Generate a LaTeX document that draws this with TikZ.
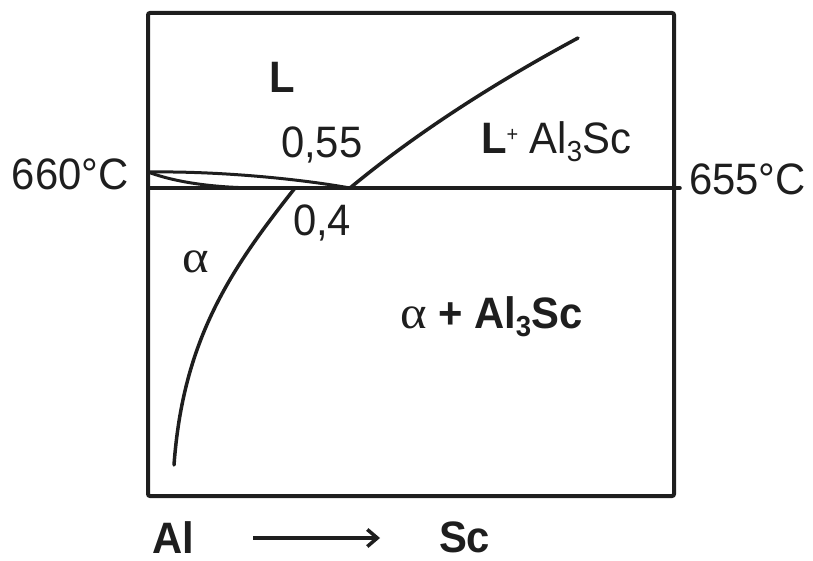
\documentclass[tikz,border=0pt]{standalone}
\usepackage{fontspec}
\setmainfont{Liberation Sans}[FakeStretch=0.95]
\newfontfamily\greekfont{Liberation Serif}[FakeStretch=1.1]
\usetikzlibrary{arrows.meta}
\definecolor{ink}{HTML}{1E1E1E}
\newcommand\subthree{\raisebox{-8pt}{\fontsize{29}{29}\selectfont 3}}
\newcommand\supplus{\raisebox{12pt}{\fontsize{21}{21}\selectfont +}}
\tikzset{
  lbl/.style={inner sep=0pt, outer sep=0pt, anchor=base west, text=ink, font=\fontsize{44}{50}\selectfont},
  blbl/.style={lbl, font=\fontsize{44}{50}\selectfont\bfseries},
  curve/.style={draw=ink, line width=3.5pt, line cap=round, line join=round},
}
\begin{document}
\begin{tikzpicture}[x=1pt,y=-1pt]
\useasboundingbox (0,0) rectangle (813,561);
% frame
\draw[ink, line width=4pt, rounded corners=2pt] (148,13) rectangle (674,496);
% eutectic line
\coordinate (h1) at (148,188);
\coordinate (h2) at (680,188);
\draw[curve] (h1) -- (h2);
% lens (liquidus/solidus near Al)
\coordinate (tip) at (148,172);
\coordinate (eut) at (350,188);
\coordinate (sol) at (262,188);
\draw[curve, line width=3pt] (tip) .. controls (220,171) and (300,179) .. (eut);
\draw[curve, line width=3pt] (tip) .. controls (180,184) and (222,188) .. (sol);
% solvus of alpha
\coordinate (s0) at (174,465);
\coordinate (s1) at (295,188);
\draw[curve] (s0) .. controls (183,340) and (230,270) .. (s1);
% liquidus of Al3Sc
\coordinate (l1) at (578,38);
\draw[curve] (eut) .. controls (420,130) and (500,80) .. (l1);
% labels
\node[lbl] (t660) at (12,190) {660°C};
\node[lbl] (t655) at (689,195) {655°C};
\node[blbl] (tL) at (269,93) {L};
\node[lbl] (t055) at (281,158) {0,55};
\node[lbl] (t04) at (293,236) {0,4};
\node[lbl, font=\fontsize{46}{50}\selectfont\greekfont] (ta) at (182,272) {α};
\node[lbl] (tLAl) at (481,154) {\textbf{L}\supplus\ Al\subthree Sc};
\node[lbl] (taAl) at (400,328) {{\fontsize{46}{50}\selectfont\greekfont α} \textbf{+ Al\subthree Sc}};
\node[blbl] (tAl) at (152,553) {Al};
\node[blbl] (tSc) at (439,552) {Sc};
\coordinate (a1) at (253,538);
\coordinate (a2) at (380,538);
\draw[ink, line width=3.5pt, -{Straight Barb[length=10pt,width=17pt,line width=3.5pt]}] (a1) -- (a2);
\end{tikzpicture}
\end{document}
